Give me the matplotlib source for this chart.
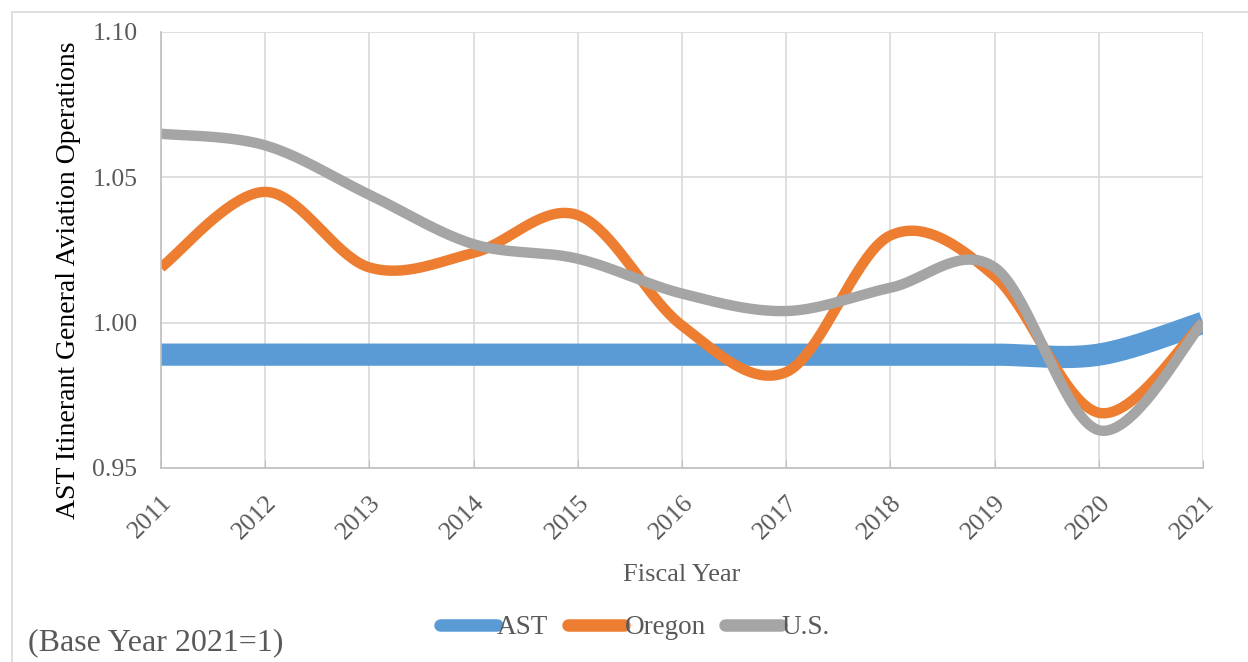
import numpy as np
import matplotlib.pyplot as plt
from matplotlib.patches import Rectangle

plt.rcParams['font.family'] = ['Liberation Serif', 'DejaVu Serif']

years = [2011, 2012, 2013, 2014, 2015, 2016, 2017, 2018, 2019, 2020, 2021]
ast = [0.989, 0.989, 0.989, 0.989, 0.989, 0.989, 0.989, 0.989, 0.989, 0.989, 1.000]
oregon = [1.019, 1.045, 1.019, 1.024, 1.037, 0.999, 0.983, 1.030, 1.016, 0.969, 1.000]
us = [1.065, 1.061, 1.044, 1.027, 1.022, 1.010, 1.004, 1.012, 1.019, 0.963, 1.000]
yticks = [0.95, 1.00, 1.05, 1.10]


def smooth(x, y, n=40):
    # Catmull-Rom style bezier, like Excel's smoothed line
    x = np.asarray(x, float)
    y = np.asarray(y, float)
    px = np.concatenate([[x[0]], x, [x[-1]]])
    py = np.concatenate([[y[0]], y, [y[-1]]])
    xs, ys = [], []
    t = np.linspace(0, 1, n)
    for i in range(1, len(px) - 2):
        p0 = np.array([px[i], py[i]])
        p3 = np.array([px[i + 1], py[i + 1]])
        c1 = p0 + (np.array([px[i + 1], py[i + 1]]) - np.array([px[i - 1], py[i - 1]])) / 6
        c2 = p3 - (np.array([px[i + 2], py[i + 2]]) - np.array([px[i], py[i]])) / 6
        b = ((1 - t) ** 3)[:, None] * p0 + (3 * (1 - t) ** 2 * t)[:, None] * c1 \
            + (3 * (1 - t) * t ** 2)[:, None] * c2 + (t ** 3)[:, None] * p3
        xs.append(b[:, 0])
        ys.append(b[:, 1])
    return np.concatenate(xs), np.concatenate(ys)


fig = plt.figure(figsize=(12.48, 6.62), dpi=100)
ax = fig.add_axes([161 / 1248, 1 - 468 / 662, (1203 - 161) / 1248, (468 - 32) / 662])

ax.plot(*smooth(years, ast), color='#5b9bd5', lw=16, solid_capstyle='butt', label='AST')
ax.plot(*smooth(years, oregon), color='#ed7d31', lw=7.5, solid_capstyle='butt', label='Oregon')
ax.plot(*smooth(years, us), color='#a5a5a5', lw=7.5, solid_capstyle='butt', label='U.S.')

ax.set_xlim(2011, 2021)
ax.set_ylim(0.95, 1.10)
ax.set_yticks(yticks)
ax.set_yticklabels([f'{v:.2f}' for v in yticks])
ax.set_xticks(years)
ax.set_xticklabels([str(y) for y in years], rotation=45, ha='right', va='top',
                   rotation_mode='anchor')
ax.grid(True, color='#d9d9d9', lw=1.2)
ax.set_axisbelow(True)
for s in ['top', 'right']:
    ax.spines[s].set_visible(False)
for s in ['left', 'bottom']:
    ax.spines[s].set_color('#bfbfbf')
    ax.spines[s].set_linewidth(1.2)
ax.tick_params(axis='y', length=0, pad=17, labelsize=18.5, labelcolor='#595959')
ax.tick_params(axis='x', length=6, color='#bfbfbf', direction='in', pad=17,
               labelsize=18.5, labelcolor='#595959')

ax.set_ylabel('AST Itinerant General Aviation Operations', fontsize=20, color='black')
ax.yaxis.set_label_coords(-80 / 1042, 0.43)
ax.set_xlabel('Fiscal Year', fontsize=19, color='#595959', labelpad=15)

leg = fig.legend(loc='center', bbox_to_anchor=(635 / 1248, 1 - 628 / 662), ncol=3, frameon=False,
                 fontsize=19.5, handlelength=2.1, handletextpad=0.0, columnspacing=0.7)
for t in leg.get_texts():
    t.set_color('#595959')
for h in leg.get_lines():
    h.set_linewidth(9)
    h.set_solid_capstyle('round')

fig.text(28 / 1248, 1 - 643 / 662, '(Base Year 2021=1)', fontsize=23, color='#595959',
         ha='left', va='center')

fig.patches.append(Rectangle((12 / 1248, -0.01), 1.2, 1 - 12 / 662 + 0.01,
                             transform=fig.transFigure, fill=False, ec='#d9d9d9', lw=1.2))

fig.savefig('out.png', dpi=100)
